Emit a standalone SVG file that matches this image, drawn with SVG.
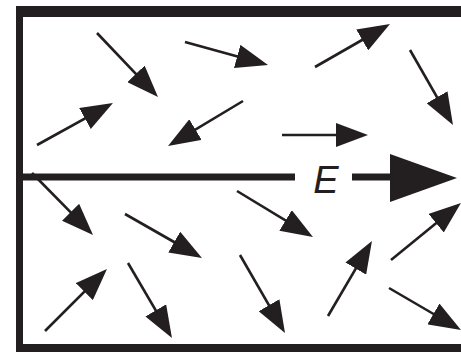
<svg xmlns="http://www.w3.org/2000/svg" width="461" height="352" viewBox="0 0 461 352">
<style>
.frame{fill:#231f20}
.v{stroke:#231f20;stroke-width:2.6;fill:none;marker-end:url(#ah)}
.field{stroke:#231f20;stroke-width:7;fill:none}
.lbl{font-family:"Liberation Sans",Arial,sans-serif;font-style:italic;font-size:38px;fill:#231f20}
</style>
<defs>
<marker id="ah" viewBox="0 0 32 24" refX="22" refY="12" markerWidth="32" markerHeight="24" markerUnits="userSpaceOnUse" orient="auto">
<path d="M0,0 L32,12 L0,24 Z" fill="#231f20"/>
</marker>
</defs>
<rect width="461" height="352" fill="#ffffff"/>
<g id="frame">
<rect class="frame" x="16" y="6" width="445" height="11"/>
<rect class="frame" x="16" y="6" width="7" height="346"/>
<rect class="frame" x="16" y="344" width="445" height="8"/>
</g>
<g id="field-E">
<line class="field" x1="23" y1="177" x2="295" y2="177"/>
<line class="field" x1="352" y1="177" x2="392" y2="177"/>
<polygon points="390,154 457,178 390,202" fill="#231f20"/>
<text class="lbl" x="326" y="193" text-anchor="middle">E</text>
</g>
<g id="connectors">
<line class="v" x1="97" y1="33" x2="151.1" y2="89.8"/>
<line class="v" x1="37" y1="145" x2="104.2" y2="107.8"/>
<line class="v" x1="243" y1="101" x2="176.6" y2="140.9"/>
<line class="v" x1="185" y1="42" x2="258.4" y2="62.3"/>
<line class="v" x1="315" y1="67" x2="381.3" y2="29"/>
<line class="v" x1="410" y1="50" x2="448" y2="116.3"/>
<line class="v" x1="282" y1="135" x2="358" y2="135"/>
<line class="v" x1="32" y1="173" x2="86" y2="227.9"/>
<line class="v" x1="125" y1="214" x2="193.3" y2="253"/>
<line class="v" x1="45" y1="331" x2="99.9" y2="276.1"/>
<line class="v" x1="128" y1="263" x2="166.9" y2="329.4"/>
<line class="v" x1="237" y1="191" x2="304.4" y2="231.8"/>
<line class="v" x1="240" y1="255" x2="280" y2="324.3"/>
<line class="v" x1="328" y1="316" x2="366.9" y2="249.6"/>
<line class="v" x1="391" y1="260" x2="453.2" y2="209.3"/>
<line class="v" x1="389" y1="288" x2="452.4" y2="325"/>
</g>
</svg>
